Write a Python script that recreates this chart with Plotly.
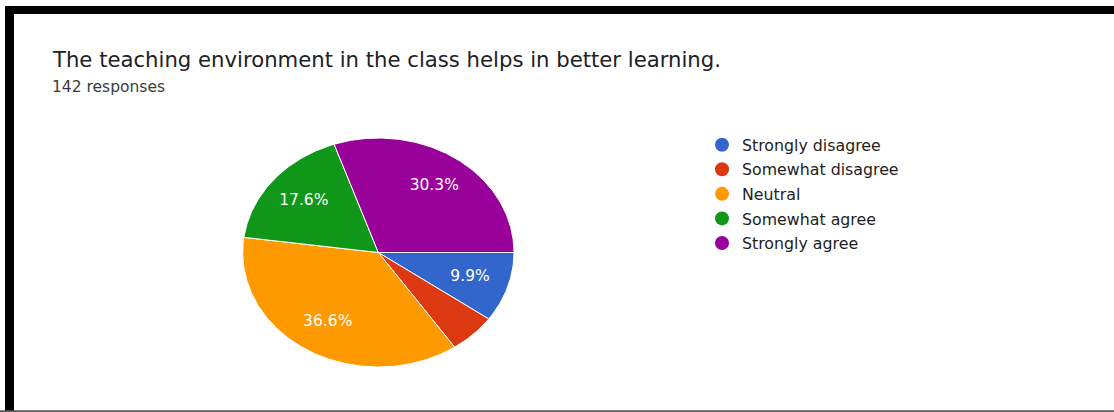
import numpy as np
import plotly.graph_objects as go

# Survey responses (142 total)
categories = ["Strongly disagree", "Somewhat disagree", "Neutral", "Somewhat agree", "Strongly agree"]
counts = [14, 8, 52, 25, 43]
colors = ["#3366CC", "#DC3912", "#FF9900", "#109618", "#990099"]

title_text = "The teaching environment in the class helps in better learning."
subtitle_text = "142 responses"

W, H = 1114, 412
FONT = "DejaVu Sans, Verdana, sans-serif"
total = sum(counts)
shares = [c / total for c in counts]

fig = go.Figure()

# Pie slices as filled wedges, clockwise from 3 o'clock
start = 0.0
label_x, label_y, label_t = [], [], []
for name, share, col in zip(categories, shares, colors):
    a0, a1 = start * 2 * np.pi, (start + share) * 2 * np.pi
    n = max(int(np.degrees(a1 - a0) * 2), 4)
    t = np.linspace(a0, a1, n)
    xs = np.concatenate([[0], np.cos(t), [0]])
    ys = np.concatenate([[0], -np.sin(t), [0]])
    fig.add_trace(go.Scatter(
        x=xs, y=ys, mode="lines", fill="toself", fillcolor=col,
        line=dict(color="white", width=1), hoverinfo="skip",
        showlegend=False,
    ))
    if share >= 0.08:
        mid = (a0 + a1) / 2
        label_x.append(0.71 * np.cos(mid))
        label_y.append(-0.71 * np.sin(mid))
        label_t.append(f"{share * 100:.1f}%")
    start += share

fig.add_trace(go.Scatter(
    x=label_x, y=label_y, mode="text", text=label_t,
    textfont=dict(family=FONT, size=15.5, color="white"),
    hoverinfo="skip", showlegend=False,
))

# Legend entries
for i, (name, col) in enumerate(zip(categories, colors)):
    fig.add_trace(go.Scatter(
        x=[None], y=[None], mode="markers", name=name,
        marker=dict(color=col, size=14, symbol="circle"),
        legendgroup=f"g{i}",
    ))

fig.add_annotation(
    text=title_text, x=50 / W, y=1 - 45 / H, xref="paper", yref="paper",
    xanchor="left", yanchor="top", showarrow=False,
    font=dict(family=FONT, size=21.2, color="#202124"),
)
fig.add_annotation(
    text=subtitle_text, x=50 / W, y=1 - 76 / H, xref="paper", yref="paper",
    xanchor="left", yanchor="top", showarrow=False,
    font=dict(family=FONT, size=15.5, color="#3c3c3c"),
)

# Frame around the card
fig.add_shape(type="line", xref="paper", yref="paper",
              x0=5 / W, x1=1, y0=1 - 10 / H, y1=1 - 10 / H,
              line=dict(color="black", width=8))
fig.add_shape(type="line", xref="paper", yref="paper",
              x0=9.5 / W, x1=9.5 / W, y0=0, y1=1 - 6 / H,
              line=dict(color="black", width=9))
fig.add_shape(type="line", xref="paper", yref="paper",
              x0=0, x1=1, y0=0.8 / H, y1=0.8 / H,
              line=dict(color="#5a5a5a", width=2))

cx0, cx1 = 242.7, 514.0
cy0, cy1 = 138.0, 367.0
fig.update_layout(
    width=W, height=H, autosize=False,
    margin=dict(l=0, r=0, t=0, b=0),
    paper_bgcolor="white", plot_bgcolor="white",
    xaxis=dict(range=[-1, 1], domain=[cx0 / W, cx1 / W], visible=False, fixedrange=True),
    yaxis=dict(range=[-1, 1], domain=[1 - cy1 / H, 1 - cy0 / H], visible=False, fixedrange=True),
    legend=dict(
        x=702 / W, y=1 - 128 / H, xanchor="left", yanchor="top",
        font=dict(family=FONT, size=15.8, color="#222222"),
        tracegroupgap=1, bgcolor="rgba(0,0,0,0)",
    ),
    showlegend=True,
)

fig.write_html("out.html")
